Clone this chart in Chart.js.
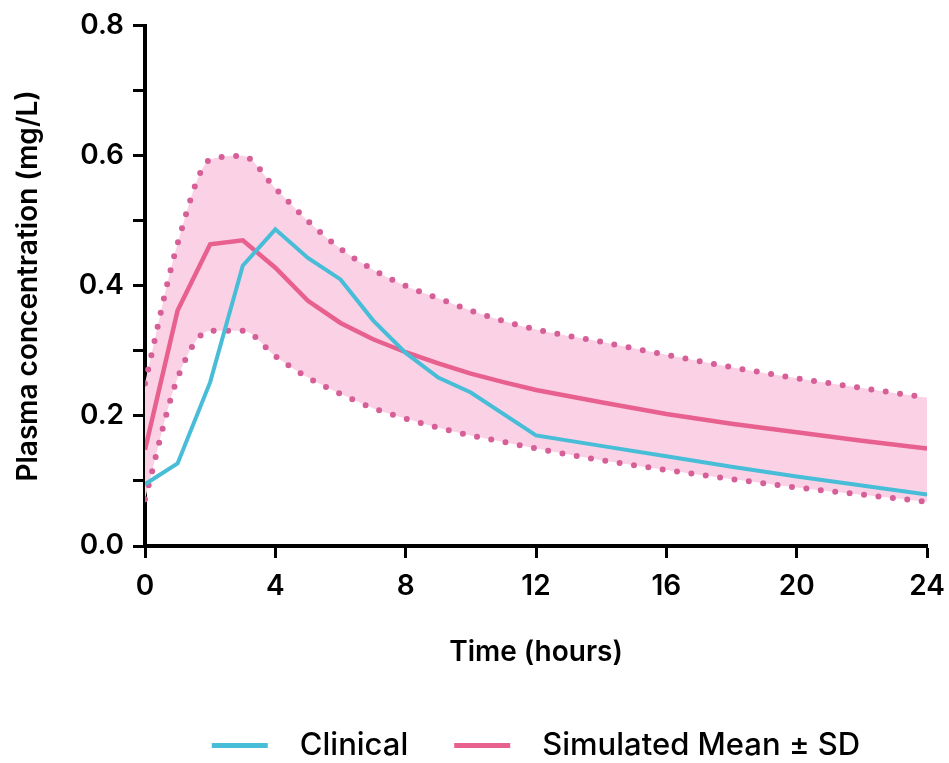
<!DOCTYPE html>
<html>
<head>
<meta charset="utf-8">
<script src="https://cdn.jsdelivr.net/npm/chart.js@4"></script>
<style>
  html, body { margin: 0; padding: 0; background: #fff; }
  #box { width: 949px; height: 763px; }
</style>
</head>
<body>
<div id="box"><canvas id="chart" width="949" height="763"></canvas></div>
<script>
// clinical observations
let timeClinical = [0, 1, 2, 3, 4, 5, 6, 7, 8, 9, 10, 12, 14, 16, 18, 20, 22, 24];
let clinical = [0.095, 0.127, 0.252, 0.431, 0.487, 0.443, 0.410, 0.347, 0.297, 0.259, 0.236, 0.170, 0.154, 0.138, 0.122, 0.107, 0.093, 0.079];

// simulated mean and +/- SD
let timeSim = [0, 1, 2, 3, 4, 5, 6, 7, 8, 9, 10, 11, 12, 14, 16, 18, 20, 22, 24];
let simMean = [0.148, 0.362, 0.464, 0.470, 0.428, 0.377, 0.343, 0.318, 0.298, 0.281, 0.265, 0.252, 0.240, 0.221, 0.203, 0.188, 0.175, 0.162, 0.150];
let simUpper = [0.250, 0.465, 0.594, 0.600, 0.550, 0.500, 0.457, 0.425, 0.400, 0.381, 0.362, 0.346, 0.333, 0.314, 0.294, 0.275, 0.258, 0.243, 0.228];
let simLower = [0.072, 0.258, 0.331, 0.331, 0.292, 0.259, 0.234, 0.212, 0.196, 0.182, 0.170, 0.160, 0.150, 0.132, 0.117, 0.103, 0.090, 0.079, 0.068];

let xTicks = [0, 4, 8, 12, 16, 20, 24];

const blue = '#48BDD7';
const pink = '#E8608E';
const dotPink = '#D65F98';
const band = '#FAD1E5';

function pts(xs, ys) {
    return xs.map((x, i) => ({ x: x, y: ys[i] }));
}

Chart.defaults.font.family = "Inter, 'Open Sans', sans-serif";
Chart.defaults.color = '#000';

// legend box height fixed so it sits at the bottom like the figure
const legendHeight = {
    id: 'legendHeight',
    beforeInit(chart) {
        const fit = chart.legend.fit;
        chart.legend.fit = function () {
            fit.call(this);
            this.height = 79;
        };
    }
};

let ctx = document.getElementById('chart').getContext('2d');

let chart = new Chart(ctx, {
    type: 'line',
    data: {
        datasets: [
            {
                label: 'Clinical',
                data: pts(timeClinical, clinical),
                borderColor: blue,
                backgroundColor: blue,
                borderWidth: 4,
                pointRadius: 0,
                tension: 0,
                fill: false,
                order: 0
            },
            {
                label: 'Simulated Mean ± SD',
                data: pts(timeSim, simMean),
                borderColor: pink,
                backgroundColor: pink,
                borderWidth: 4.5,
                pointRadius: 0,
                tension: 0,
                fill: false,
                order: 1
            },
            {
                label: 'upper',
                data: pts(timeSim, simUpper),
                borderColor: dotPink,
                backgroundColor: band,
                borderWidth: 6,
                borderDash: [0, 14.5],
                borderCapStyle: 'round',
                pointRadius: 0,
                cubicInterpolationMode: 'monotone',
                fill: '+1',
                order: 3
            },
            {
                label: 'lower',
                data: pts(timeSim, simLower),
                borderColor: dotPink,
                backgroundColor: band,
                borderWidth: 6,
                borderDash: [0, 14.5],
                borderCapStyle: 'round',
                pointRadius: 0,
                cubicInterpolationMode: 'monotone',
                fill: false,
                order: 2
            }
        ]
    },
    options: {
        responsive: false,
        animation: false,
        layout: { padding: { top: 24, right: 22, bottom: 0, left: 0 } },
        plugins: {
            tooltip: { enabled: false },
            legend: {
                position: 'bottom',
                fullSize: false,
                labels: {
                    boxWidth: 56,
                    boxHeight: 5,
                    padding: 46,
                    font: { size: 31, weight: 500 },
                    filter: item => item.datasetIndex < 2,
                    generateLabels: c => {
                        let items = Chart.defaults.plugins.legend.labels.generateLabels(c);
                        items.forEach(it => {
                            it.lineWidth = 0;
                            it.text = '  ' + it.text;
                        });
                        return items;
                    }
                }
            }
        },
        scales: {
            x: {
                type: 'linear',
                min: 0,
                max: 24,
                afterBuildTicks: s => { s.ticks = xTicks.map(v => ({ value: v })); },
                afterFit: s => { s.height = 138; s.paddingRight = 0; s.paddingLeft = 0; },
                border: { color: '#000', width: 4 },
                grid: { drawOnChartArea: false, drawTicks: true, tickLength: 12, tickWidth: 3, tickColor: '#000' },
                ticks: { padding: 12, font: { size: 28, weight: 600 }, color: '#000', maxRotation: 0 },
                title: { display: true, text: 'Time (hours)', font: { size: 28, weight: 600 }, color: '#000', padding: { top: 0, bottom: 15 } }
            },
            y: {
                min: 0,
                max: 0.8,
                afterFit: s => { s.width = 145; },
                border: { color: '#000', width: 4 },
                grid: { drawOnChartArea: false, drawTicks: true, tickLength: 12, tickWidth: 3, tickColor: '#000' },
                ticks: {
                    stepSize: 0.1,
                    padding: 9,
                    font: { size: 28, weight: 600 },
                    color: '#000',
                    callback: v => (Math.round(v * 10) % 2 === 0 ? v.toFixed(1) : '')
                },
                title: { display: true, text: 'Plasma concentration (mg/L)', font: { size: 28, weight: 600 }, color: '#000', padding: { top: 12, bottom: 0 } }
            }
        }
    },
    plugins: [legendHeight]
});
</script>
</body>
</html>
